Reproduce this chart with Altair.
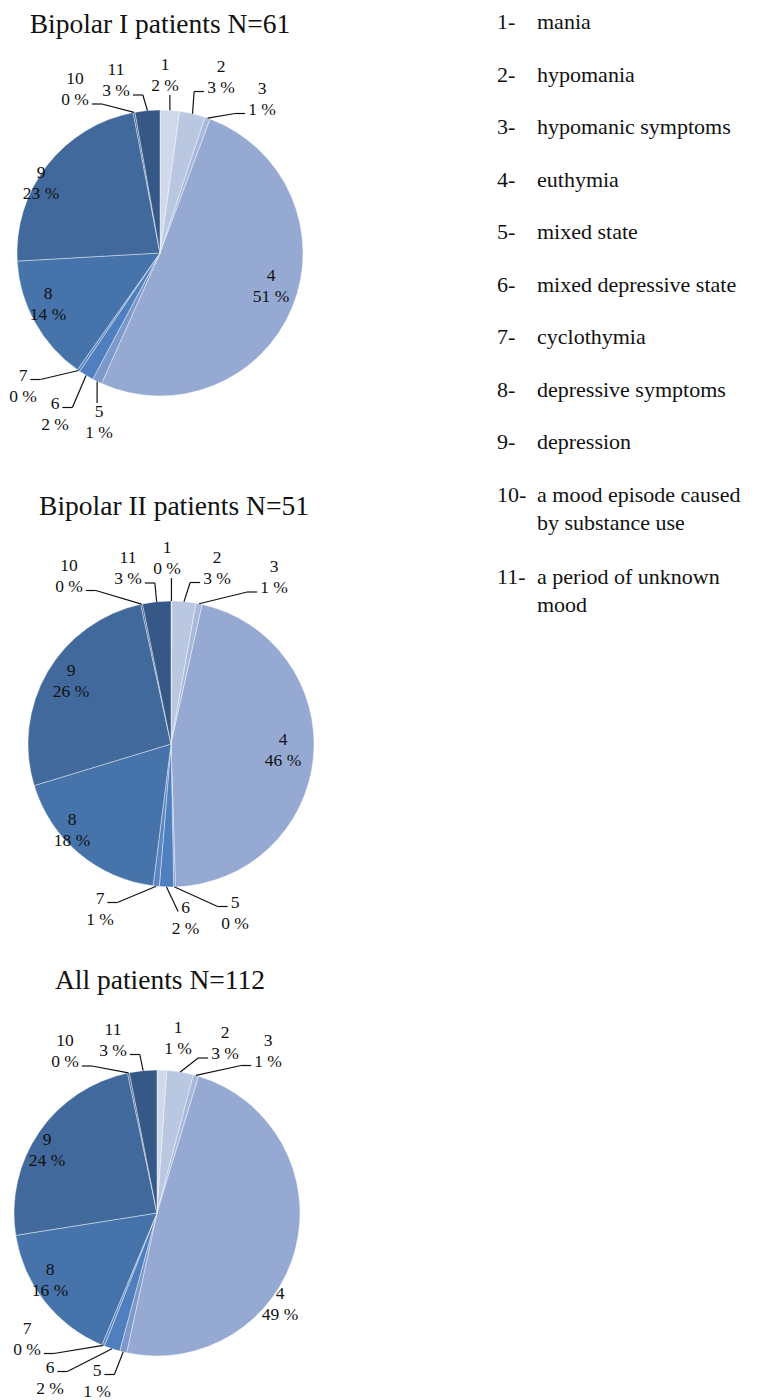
import altair as alt
import numpy as np
import pandas as pd

# ---------------------------------------------------------------- data
STATE_IDS = [str(i) for i in range(1, 12)]
STATE_NAMES = [
    "mania",
    "hypomania",
    "hypomanic symptoms",
    "euthymia",
    "mixed state",
    "mixed depressive state",
    "cyclothymia",
    "depressive symptoms",
    "depression",
    "a mood episode caused\nby substance use",
    "a period of unknown\nmood",
]
PIE_TITLES = ["Bipolar I patients N=61", "Bipolar II patients N=51", "All patients N=112"]

# share of follow-up time spent in each mood state, %
BIPOLAR_I_PCT = [2.2, 2.9, 0.6, 51.0, 1.1, 1.7, 0.3, 14.3, 22.9, 0.2, 2.8]
BIPOLAR_II_PCT = [0.1, 2.7, 0.7, 46.0, 0.2, 1.6, 0.7, 18.3, 26.3, 0.2, 3.2]
ALL_PCT = [1.1, 3.0, 0.6, 48.7, 0.8, 1.8, 0.3, 16.2, 24.2, 0.2, 3.1]
PIE_VALUES = [BIPOLAR_I_PCT, BIPOLAR_II_PCT, ALL_PCT]

# ---------------------------------------------------------------- style / layout
SLICE_COLORS = ["#d0d9ea", "#b9c7e1", "#a7b8da", "#95a9d2", "#7d99c9", "#4f7fbf",
                "#5a87c2", "#4673aa", "#41699c", "#3a5e90", "#355887"]
FONT = "Liberation Serif"
INK = "#111111"
CANVAS_W, CANVAS_H = 760, 1400
RADIUS = 143
LABEL_SIZE = 17.5
LABEL_LH = 21
PIE_CENTERS = [(160, 253), (171, 744), (157, 1213)]
TITLE_POS = [(160, 33), (174, 515), (160, 989)]

# label block offset from pie centre, leader side, line the leader meets, elbow length
LABEL_LAYOUT = [
    {"1": (5, -177.5, "B", 2, 0), "2": (61, -176, "L", 2, 10), "3": (102, -154, "L", 2, 10),
     "4": (111, 33.5, None, 0, 0), "5": (-61, 169.5, "T", 1, 0), "6": (-105, 161, "R", 1, 10),
     "7": (-137, 133, "R", 1, 10), "8": (-112, 51.5, None, 0, 0), "9": (-119, -70, None, 0, 0),
     "10": (-85, -163.5, "R", 2, 10), "11": (-44, -172.5, "R", 2, 10)},
    {"1": (-4, -185.5, "B", 2, 0), "2": (46, -176, "L", 2, 10), "3": (103, -166.5, "L", 2, 10),
     "4": (112, 6.5, None, 0, 0), "5": (64, 169, "L", 1, 10), "6": (14.5, 174, "L", 1, 0),
     "7": (-71, 165, "R", 1, 10), "8": (-99, 86, None, 0, 0), "9": (-100, -63, None, 0, 0),
     "10": (-102, -168, "R", 2, 10), "11": (-43, -175.5, "R", 2, 10)},
    {"1": (21, -174.5, None, 0, 0), "2": (68, -169.5, "L", 2, 10), "3": (111, -162, "L", 2, 10),
     "4": (123, 91, None, 0, 0), "5": (-60, 168, "R", 1, 10), "6": (-107, 165, "R", 1, 10),
     "7": (-130, 126, "R", 2, 10), "8": (-107, 67, None, 0, 0), "9": (-110, -63, None, 0, 0),
     "10": (-92, -161.5, "R", 2, 10), "11": (-44, -173, "R", 2, 10)},
]

LEGEND_X_NUM, LEGEND_X_NAME = 497, 537
LEGEND_Y0, LEGEND_STEP, LEGEND_LH, LEGEND_WRAP_EXTRA = 22, 52.5, 28, 30
LEGEND_SIZE = 22

GLYPH_W = {"%": 0.833, " ": 0.25}


def text_width(s, size):
    return sum(GLYPH_W.get(ch, 0.5) for ch in s) * size


def pct_text(v):
    return f"{round(v):.0f} %"


# ---------------------------------------------------------------- tables
slice_rows, label_rows, seg_rows = [], [], []
for p, values in enumerate(PIE_VALUES):
    cx, cy = PIE_CENTERS[p]
    ends = np.cumsum(values)
    starts = ends - np.array(values)
    for i, sid in enumerate(STATE_IDS):
        slice_rows.append({"pie": p, "state": sid, "start": starts[i], "end": ends[i],
                           "cx": cx, "cy": cy})
        dx, dy, side, line, elbow = LABEL_LAYOUT[p][sid]
        lx, ly = cx + dx, cy + dy
        lines = [sid, pct_text(values[i])]
        label_rows.append({"x": lx, "y": ly - LABEL_LH / 2, "text": lines[0]})
        label_rows.append({"x": lx, "y": ly + LABEL_LH / 2, "text": lines[1]})
        if side is None:
            continue
        mid = (starts[i] + ends[i]) / 2 / 100 * 2 * np.pi
        px, py = cx + RADIUS * np.sin(mid), cy - RADIUS * np.cos(mid)
        if side == "B":
            seg_rows.append({"x": px, "y": py, "x2": px, "y2": ly + LABEL_LH / 2 + 9})
            continue
        if side == "T":
            seg_rows.append({"x": px, "y": py, "x2": px, "y2": ly - LABEL_LH / 2 - 9})
            continue
        line_y = ly - LABEL_LH / 2 if line == 1 else ly + LABEL_LH / 2
        w = text_width(lines[line - 1], LABEL_SIZE)
        ay = line_y + 4
        if side == "L":
            ax = lx - w / 2 - 3
            ex = ax - elbow
        else:
            ax = lx + w / 2 + 3
            ex = ax + elbow
        seg_rows.append({"x": px, "y": py, "x2": ex, "y2": ay})
        if elbow:
            seg_rows.append({"x": ex, "y": ay, "x2": ax, "y2": ay})

slices = pd.DataFrame(slice_rows)
labels = pd.DataFrame(label_rows)
leaders = pd.DataFrame(seg_rows)
titles = pd.DataFrame({"x": [t[0] for t in TITLE_POS], "y": [t[1] for t in TITLE_POS],
                       "text": PIE_TITLES})

legend_nums, legend_names = [], []
extra = 0
for i, (sid, name) in enumerate(zip(STATE_IDS, STATE_NAMES)):
    y = LEGEND_Y0 + LEGEND_STEP * i + LEGEND_WRAP_EXTRA * extra
    legend_nums.append({"x": LEGEND_X_NUM, "y": y, "text": f"{sid}-"})
    for k, part in enumerate(name.split("\n")):
        legend_names.append({"x": LEGEND_X_NAME, "y": y + k * LEGEND_LH, "text": part})
    extra += name.count("\n")
legend_nums = pd.DataFrame(legend_nums)
legend_names = pd.DataFrame(legend_names)

# ---------------------------------------------------------------- chart
xs = alt.Scale(domain=[0, CANVAS_W], nice=False, zero=False)
ys = alt.Scale(domain=[0, CANVAS_H], nice=False, zero=False, reverse=True)

arcs = alt.Chart(slices).mark_arc(outerRadius=RADIUS, stroke="white", strokeWidth=0.5,
                                  strokeOpacity=0.8).encode(
    x=alt.X("cx:Q", scale=xs, axis=None),
    y=alt.Y("cy:Q", scale=ys, axis=None),
    theta=alt.Theta("start:Q", scale=alt.Scale(domain=[0, 100], range=[0, 2 * np.pi])),
    theta2="end:Q",
    color=alt.Color("state:N", scale=alt.Scale(domain=STATE_IDS, range=SLICE_COLORS), legend=None),
)

leader_lines = alt.Chart(leaders).mark_rule(color=INK, strokeWidth=1.2).encode(
    x=alt.X("x:Q", scale=xs, axis=None), y=alt.Y("y:Q", scale=ys, axis=None),
    x2="x2:Q", y2="y2:Q",
)


def text_layer(df, size, align):
    return alt.Chart(df).mark_text(font=FONT, fontSize=size, color=INK, align=align,
                                   baseline="middle").encode(
        x=alt.X("x:Q", scale=xs, axis=None), y=alt.Y("y:Q", scale=ys, axis=None), text="text:N")


slice_labels = text_layer(labels, LABEL_SIZE, "center")
title_text = alt.Chart(titles).mark_text(font=FONT, fontSize=27.5, color=INK, align="center",
                                         baseline="alphabetic").encode(
    x=alt.X("x:Q", scale=xs, axis=None), y=alt.Y("y:Q", scale=ys, axis=None), text="text:N")
key_nums = text_layer(legend_nums, LEGEND_SIZE, "left")
key_names = text_layer(legend_names, LEGEND_SIZE, "left")

chart = alt.layer(arcs, leader_lines, slice_labels, title_text, key_nums, key_names).properties(
    width=CANVAS_W, height=CANVAS_H, padding=0, autosize="none", background="white",
).configure_view(stroke=None)

chart.save("out.html", embed_options={"renderer": "svg", "actions": False})
